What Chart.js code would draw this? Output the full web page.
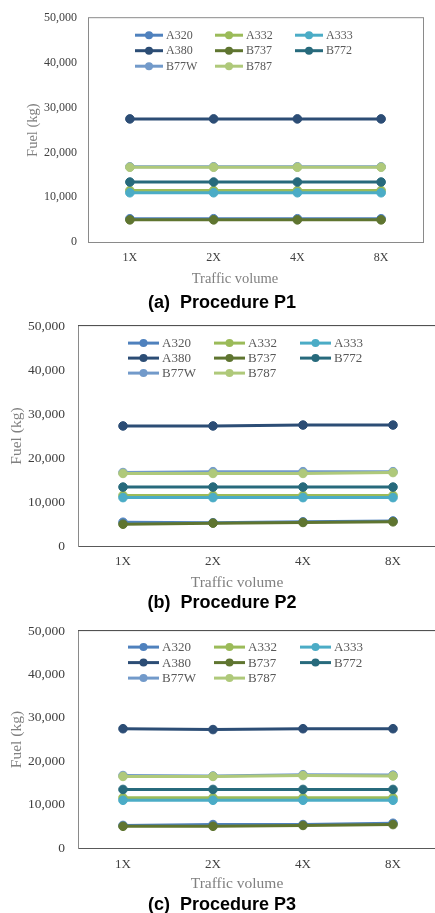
<!DOCTYPE html>
<html><head><meta charset="utf-8">
<script src="https://cdn.jsdelivr.net/npm/chart.js@4.4.1/dist/chart.umd.min.js"></script>
<style>
html,body{margin:0;padding:0;background:#fff;}
#wrap{position:relative;width:435px;height:913px;overflow:hidden;background:#fff;}
canvas{position:absolute;left:0;}
.xt{position:absolute;font-family:'Liberation Serif','Times New Roman',serif;color:#808080;white-space:nowrap;transform:translate(-50%,-50%);}
.cap{position:absolute;font-family:'Liberation Sans',Arial,sans-serif;font-weight:bold;font-size:18px;color:#000;white-space:pre;transform:translate(-50%,-50%);}
</style></head><body>
<div id="wrap">
<canvas id="c1" width="435" height="290" style="top:0px"></canvas>
<canvas id="c2" width="445" height="290" style="top:305px"></canvas>
<canvas id="c3" width="445" height="290" style="top:610px"></canvas>
<div class="xt" style="left:235px;top:278px;font-size:14.5px">Traffic volume</div>
<div class="cap" style="left:222px;top:302px">(a)  Procedure P1</div>
<div class="xt" style="left:237px;top:582px;font-size:15.5px">Traffic volume</div>
<div class="cap" style="left:222px;top:602px">(b)  Procedure P2</div>
<div class="xt" style="left:237px;top:883px;font-size:15.5px">Traffic volume</div>
<div class="cap" style="left:222px;top:904px">(c)  Procedure P3</div>
</div>
<script>
// ---- data ----
const categories = ['1X', '2X', '4X', '8X'];
const seriesNames = ['A320', 'A332', 'A333', 'A380', 'B737', 'B772', 'B77W', 'B787'];
const seriesColors = ['#4F81BD', '#9BBB59', '#4BACC6', '#2C4D75', '#5F7530', '#276A7C', '#729ACA', '#AFC97A'];
const yTickValues = [0, 10000, 20000, 30000, 40000, 50000];

// Procedure P1
const p1A320 = [5200, 5200, 5200, 5200];
const p1A332 = [11500, 11500, 11500, 11500];
const p1A333 = [11000, 11000, 11000, 11000];
const p1A380 = [27500, 27500, 27500, 27500];
const p1B737 = [4950, 4950, 4950, 4950];
const p1B772 = [13400, 13400, 13400, 13400];
const p1B77W = [16800, 16800, 16800, 16800];
const p1B787 = [16700, 16700, 16700, 16700];

// Procedure P2
const p2A320 = [5400, 5300, 5500, 5700];
const p2A332 = [11500, 11500, 11500, 11500];
const p2A333 = [11000, 11000, 11000, 11000];
const p2A380 = [27300, 27300, 27500, 27500];
const p2B737 = [4950, 5200, 5350, 5500];
const p2B772 = [13400, 13400, 13400, 13400];
const p2B77W = [16700, 16900, 16900, 16900];
const p2B787 = [16500, 16500, 16500, 16700];

// Procedure P3
const p3A320 = [5200, 5400, 5400, 5700];
const p3A332 = [11600, 11600, 11600, 11600];
const p3A333 = [11000, 11000, 11000, 11000];
const p3A380 = [27500, 27300, 27500, 27500];
const p3B737 = [5000, 5000, 5200, 5400];
const p3B772 = [13500, 13500, 13500, 13500];
const p3B77W = [16700, 16600, 16900, 16800];
const p3B787 = [16500, 16500, 16700, 16600];

const p1Series = [p1A320, p1A332, p1A333, p1A380, p1B737, p1B772, p1B77W, p1B787];
const p2Series = [p2A320, p2A332, p2A333, p2A380, p2B737, p2B772, p2B77W, p2B787];
const p3Series = [p3A320, p3A332, p3A333, p3A380, p3B737, p3B772, p3B77W, p3B787];

// ---- plugins ----
const insideLegend = {
  id: 'insideLegend',
  afterDatasetsDraw(chart, args, o) {
    const {ctx, chartArea} = chart;
    ctx.save();
    ctx.font = o.font;
    ctx.textBaseline = 'middle';
    ctx.textAlign = 'left';
    chart.data.datasets.forEach((ds, i) => {
      const col = i % 3, row = Math.floor(i / 3);
      const x = chartArea.left + o.x + col * o.pitch;
      const y = chartArea.top + o.y + row * o.rowH;
      ctx.strokeStyle = ds.borderColor;
      ctx.lineWidth = 3;
      ctx.beginPath(); ctx.moveTo(x, y); ctx.lineTo(x + o.lineLen, y); ctx.stroke();
      ctx.fillStyle = ds.borderColor;
      ctx.beginPath(); ctx.arc(x + o.lineLen / 2, y, 4, 0, Math.PI * 2); ctx.fill();
      ctx.fillStyle = o.color;
      ctx.fillText(ds.label, x + o.lineLen + o.gap, y + 0.5);
    });
    ctx.restore();
  }
};
const frame = {
  id: 'frame',
  beforeDatasetsDraw(chart, args, o) {
    const {ctx, chartArea: a} = chart;
    ctx.save();
    ctx.lineWidth = 1;
    ctx.strokeStyle = o.topColor;
    ctx.beginPath(); ctx.moveTo(a.left, a.top - 0.5); ctx.lineTo(a.right, a.top - 0.5); ctx.stroke();
    ctx.strokeStyle = o.rightColor;
    ctx.beginPath(); ctx.moveTo(a.right + 0.5, a.top - 1); ctx.lineTo(a.right + 0.5, a.bottom); ctx.stroke();
    ctx.restore();
  }
};

function makeChart(id, series, c) {
  const datasets = series.map((vals, i) => ({
    label: seriesNames[i],
    data: vals,
    borderColor: seriesColors[i],
    backgroundColor: seriesColors[i],
    pointBackgroundColor: seriesColors[i],
    pointBorderColor: seriesColors[i],
    borderWidth: 3,
    pointRadius: 4.3,
    pointBorderWidth: 1,
    tension: 0,
    order: -i
  }));
  const serif = "'Liberation Serif','Times New Roman',serif";
  return new Chart(document.getElementById(id), {
    type: 'line',
    data: { labels: categories, datasets },
    plugins: [frame, insideLegend],
    options: {
      responsive: false,
      animation: false,
      layout: { padding: { top: c.top, right: c.right, left: 0, bottom: 0 } },
      plugins: {
        legend: { display: false },
        tooltip: { enabled: false },
        insideLegend: c.legend,
        frame: { topColor: c.topColor, rightColor: c.rightColor }
      },
      scales: {
        x: {
          offset: true,
          grid: { display: false, drawTicks: false },
          border: { display: true, color: c.xAxisColor, width: 1 },
          ticks: { color: '#404040', font: { family: serif, size: c.xTickSize }, padding: c.xTickPad },
          afterFit: (s) => { s.height = c.xHeight; }
        },
        y: {
          min: 0, max: 50000,
          grid: { display: false, drawTicks: false },
          border: { display: true, color: '#8a8a8a', width: 1 },
          afterBuildTicks: (s) => { s.ticks = yTickValues.map(v => ({ value: v })); },
          ticks: {
            color: '#404040',
            font: { family: serif, size: c.yTickSize },
            padding: c.yTickPad,
            callback: (v) => Number(v).toLocaleString('en-US')
          },
          title: {
            display: true, text: 'Fuel (kg)', color: '#808080',
            font: { family: serif, size: c.yTitleSize },
            padding: { top: c.yTitlePad, bottom: 0 }
          },
          afterFit: (s) => { s.width = c.yWidth; }
        }
      }
    }
  });
}

makeChart('c1', p1Series, {
  top: 17, right: 12, yWidth: 88, xHeight: 48,
  xTickSize: 12, xTickPad: 9, yTickSize: 12, yTickPad: 11,
  yTitleSize: 14.5, yTitlePad: 24,
  xAxisColor: '#8a8a8a', topColor: '#8a8a8a', rightColor: '#8a8a8a',
  legend: { x: 47, y: 17, pitch: 80, rowH: 15.5, lineLen: 28, gap: 3, font: "12px 'Liberation Serif', serif", color: '#595959' }
});
makeChart('c2', p2Series, {
  top: 19, right: 7, yWidth: 78, xHeight: 49,
  xTickSize: 13, xTickPad: 8, yTickSize: 13.5, yTickPad: 13,
  yTitleSize: 15.5, yTitlePad: 8,
  xAxisColor: '#595959', topColor: '#404040', rightColor: '#404040',
  legend: { x: 50, y: 17, pitch: 86, rowH: 15, lineLen: 31, gap: 3, font: "13px 'Liberation Serif', serif", color: '#595959' }
});
makeChart('c3', p3Series, {
  top: 17, right: 7, yWidth: 78, xHeight: 52,
  xTickSize: 13, xTickPad: 9, yTickSize: 13.5, yTickPad: 13,
  yTitleSize: 15.5, yTitlePad: 8,
  xAxisColor: '#595959', topColor: '#404040', rightColor: '#404040',
  legend: { x: 50, y: 16, pitch: 86, rowH: 15.5, lineLen: 31, gap: 3, font: "13px 'Liberation Serif', serif", color: '#595959' }
});
</script>
</body></html>
